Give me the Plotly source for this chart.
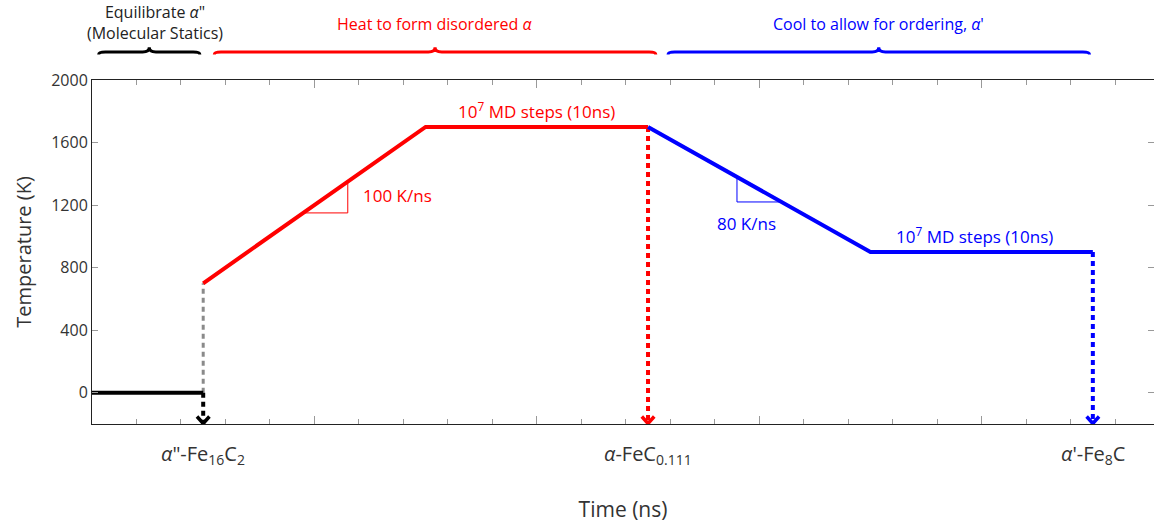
import plotly.graph_objects as go

# ---------------- data ----------------
time_equil = [0, 5]
temp_equil = [0, 0]
time_heat = [5, 15, 25]
temp_heat = [700, 1700, 1700]
time_cool = [25, 35, 45]
temp_cool = [1700, 900, 900]
time_jump = [5, 5]
temp_jump = [0, 700]

snap_time = [5, 25, 45]
snap_temp = [0, 1700, 900]
snap_colors = ["black", "red", "blue"]
snap_labels = ['<i>α</i>"-Fe<sub>16</sub>C<sub>2</sub>',
               '<i>α</i>-FeC<sub>0.111</sub>',
               "<i>α</i>'-Fe<sub>8</sub>C"]

heat_tri_t = [9.5, 11.5, 11.5]
heat_tri_T = [1150, 1150, 1350]
cool_tri_t = [29, 29, 31]
cool_tri_T = [1380, 1220, 1220]

phase_labels = ['Equilibrate <i>α</i>"<br>(Molecular Statics)',
                "Heat to form disordered <i>α</i>",
                "Cool to allow for ordering, <i>α</i>'"]
phase_colors = ["black", "red", "blue"]
brace_x0 = [0.3, 5.5, 25.9]
brace_x1 = [4.85, 25.35, 44.85]

y_ticks = [0, 400, 800, 1200, 1600, 2000]
x_major = [10, 20, 30, 40]

Y_MIN, Y_MAX = -200, 2000
X_MAX = 47.75
FONT = "Open Sans"

fig = go.Figure()

# dotted jump line (grey)
fig.add_trace(go.Scatter(x=time_jump, y=temp_jump, mode="lines",
                         line=dict(color="#8a8a8a", width=3, dash="5px,4px"),
                         showlegend=False, hoverinfo="skip"))

# dotted drop arrows
for t, T, c in zip(snap_time, snap_temp, snap_colors):
    fig.add_trace(go.Scatter(x=[t, t], y=[T, Y_MIN], mode="lines",
                             line=dict(color=c, width=4, dash="5px,4px"),
                             showlegend=False, hoverinfo="skip"))
    dx, dy = 0.28, 48
    fig.add_trace(go.Scatter(x=[t - dx, t, t + dx], y=[Y_MIN + dy, Y_MIN + 3, Y_MIN + dy],
                             mode="lines", line=dict(color=c, width=3.5),
                             showlegend=False, hoverinfo="skip"))

fig.add_trace(go.Scatter(x=time_equil, y=temp_equil, mode="lines",
                         line=dict(color="black", width=4), showlegend=False))
fig.add_trace(go.Scatter(x=time_heat, y=temp_heat, mode="lines",
                         line=dict(color="red", width=4), showlegend=False))
fig.add_trace(go.Scatter(x=time_cool, y=temp_cool, mode="lines",
                         line=dict(color="blue", width=4), showlegend=False))

# slope triangles
fig.add_trace(go.Scatter(x=heat_tri_t, y=heat_tri_T, mode="lines",
                         line=dict(color="red", width=1), showlegend=False))
fig.add_trace(go.Scatter(x=cool_tri_t, y=cool_tri_T, mode="lines",
                         line=dict(color="blue", width=1), showlegend=False))

ann = []
ann.append(dict(x=12.1, y=1262, text="100 K/ns", showarrow=False, xanchor="left",
                font=dict(color="red", size=17, family=FONT)))
ann.append(dict(x=29.45, y=1080, text="80 K/ns", showarrow=False,
                font=dict(color="blue", size=17, family=FONT)))
ann.append(dict(x=20, y=1700, text="10<sup>7</sup> MD steps (10ns)", showarrow=False,
                yanchor="bottom", yshift=2, font=dict(color="red", size=17, family=FONT)))
ann.append(dict(x=39.7, y=900, text="10<sup>7</sup> MD steps (10ns)", showarrow=False,
                yanchor="bottom", yshift=2, font=dict(color="blue", size=17, family=FONT)))

for t, lab in zip(snap_time, snap_labels):
    ann.append(dict(x=t, y=-0.09, yref="paper", text=lab, showarrow=False,
                    yanchor="middle", font=dict(color="#333", size=20, family=FONT)))

# braces
shapes = []
yb, ytip, ypk = 1.0814, 1.074, 1.095
for x0, x1, c in zip(brace_x0, brace_x1, phase_colors):
    xc = (x0 + x1) / 2
    d = 0.3
    path = (f"M{x0},{ytip} Q{x0},{yb} {x0+d},{yb} L{xc-d},{yb} Q{xc},{yb} {xc},{ypk} "
            f"Q{xc},{yb} {xc+d},{yb} L{x1-d},{yb} Q{x1},{yb} {x1},{ytip}")
    shapes.append(dict(type="path", path=path, xref="x", yref="paper",
                       line=dict(color=c, width=3)))
ann.append(dict(x=2.83, y=1.167, yref="paper", text=phase_labels[0], showarrow=False,
                yanchor="middle", font=dict(color="#222", size=16, family=FONT)))
ann.append(dict(x=15.4, y=1.163, yref="paper", text=phase_labels[1], showarrow=False,
                yanchor="middle", font=dict(color="red", size=16, family=FONT)))
ann.append(dict(x=35.35, y=1.163, yref="paper", text=phase_labels[2], showarrow=False,
                yanchor="middle", font=dict(color="blue", size=16, family=FONT)))

fig.update_layout(
    width=1154, height=524,
    margin=dict(l=92, r=0, t=80, b=100),
    plot_bgcolor="white", paper_bgcolor="white",
    font=dict(family=FONT, color="#333"),
    annotations=ann, shapes=shapes,
    xaxis=dict(range=[0, X_MAX], tickvals=x_major, ticks="inside", ticklen=8,
               tickcolor="#999", showticklabels=False, showline=True, linecolor="#222",
               mirror="ticks", showgrid=False, zeroline=False,
               minor=dict(dtick=2, tick0=0, ticks="inside", ticklen=5, tickcolor="#999"),
               title=dict(text="Time (ns)", font=dict(size=21, family=FONT, color="#333"),
                          standoff=78)),
    yaxis=dict(range=[Y_MIN, Y_MAX], tickvals=y_ticks, ticks="inside", ticklen=6,
               tickcolor="#999", showline=True, linecolor="#222", mirror="ticks",
               showgrid=False, zeroline=False,
               tickfont=dict(size=16, family=FONT, color="#333"),
               title=dict(text="Temperature (K)", font=dict(size=20, family=FONT, color="#333"),
                          standoff=14)),
)

fig.write_html("out.html")
